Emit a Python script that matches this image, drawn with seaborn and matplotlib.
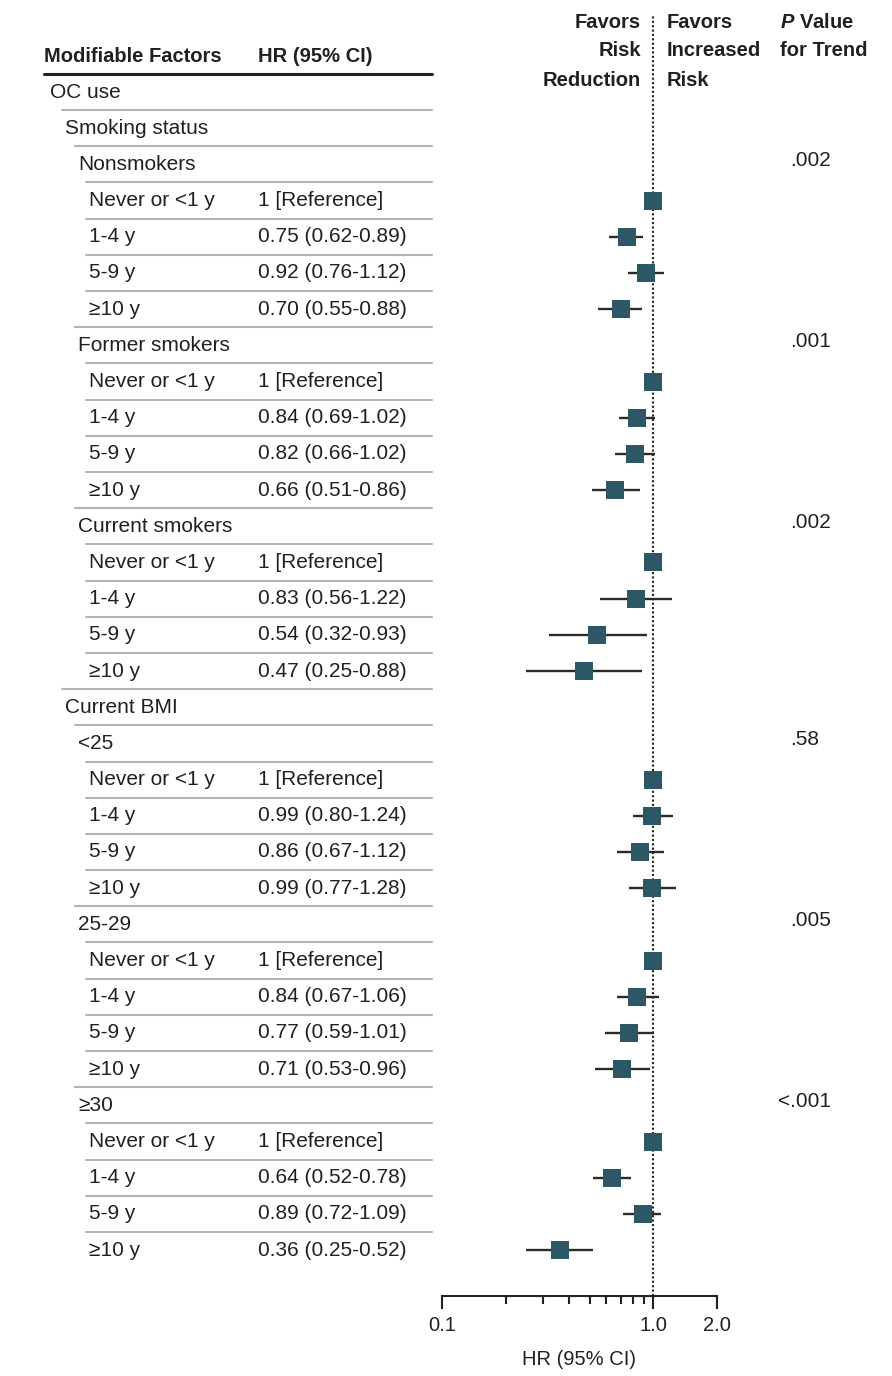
#!/usr/bin/env python3
"""Forest plot: OC use by smoking status and current BMI."""

import numpy as np
import pandas as pd
import seaborn as sns
import matplotlib.pyplot as plt
import matplotlib.transforms as mtransforms

# ---- data -----------------------------------------------------------------
row_labels = [
    "OC use", "Smoking status",
    "Nonsmokers", "Never or <1 y", "1-4 y", "5-9 y", "\u226510 y",
    "Former smokers", "Never or <1 y", "1-4 y", "5-9 y", "\u226510 y",
    "Current smokers", "Never or <1 y", "1-4 y", "5-9 y", "\u226510 y",
    "Current BMI",
    "<25", "Never or <1 y", "1-4 y", "5-9 y", "\u226510 y",
    "25-29", "Never or <1 y", "1-4 y", "5-9 y", "\u226510 y",
    "\u226530", "Never or <1 y", "1-4 y", "5-9 y", "\u226510 y",
]
row_levels = [0, 1,
              2, 3, 3, 3, 3,
              2, 3, 3, 3, 3,
              2, 3, 3, 3, 3,
              1,
              2, 3, 3, 3, 3,
              2, 3, 3, 3, 3,
              2, 3, 3, 3, 3]
nan = np.nan
hr = [nan, nan,
      nan, 1.00, 0.75, 0.92, 0.70,
      nan, 1.00, 0.84, 0.82, 0.66,
      nan, 1.00, 0.83, 0.54, 0.47,
      nan,
      nan, 1.00, 0.99, 0.86, 0.99,
      nan, 1.00, 0.84, 0.77, 0.71,
      nan, 1.00, 0.64, 0.89, 0.36]
ci_low = [nan, nan,
          nan, nan, 0.62, 0.76, 0.55,
          nan, nan, 0.69, 0.66, 0.51,
          nan, nan, 0.56, 0.32, 0.25,
          nan,
          nan, nan, 0.80, 0.67, 0.77,
          nan, nan, 0.67, 0.59, 0.53,
          nan, nan, 0.52, 0.72, 0.25]
ci_high = [nan, nan,
           nan, nan, 0.89, 1.12, 0.88,
           nan, nan, 1.02, 1.02, 0.86,
           nan, nan, 1.22, 0.93, 0.88,
           nan,
           nan, nan, 1.24, 1.12, 1.28,
           nan, nan, 1.06, 1.01, 0.96,
           nan, nan, 0.78, 1.09, 0.52]
p_trend = ["", "",
           ".002", "", "", "", "",
           ".001", "", "", "", "",
           ".002", "", "", "", "",
           "",
           ".58", "", "", "", "",
           ".005", "", "", "", "",
           "<.001", "", "", "", ""]

x_ticks = [0.1, 1.0, 2.0]
x_tick_labels = ["0.1", "1.0", "2.0"]

# ---- style ----------------------------------------------------------------
sns.set_style("white")
plt.rcParams["font.family"] = ["Liberation Sans", "DejaVu Sans"]
plt.rcParams["mathtext.fontset"] = "custom"
plt.rcParams["mathtext.it"] = "Liberation Sans:italic:bold"
plt.rcParams["mathtext.rm"] = "Liberation Sans:bold"

TXT = "#231f20"
TEAL = "#2b5864"
FS = 15
FS_HEAD = 14.5
W, H = 892, 1376
ROW0, ROWH = 92, 36.19      # pixel centre of first row and row pitch
AX_L, AX_R, AX_B = 442, 717, 1296
indent_px = [50, 65, 78, 89]
HR_X = 258
TABLE_R = 432

df = pd.DataFrame({"label": row_labels, "level": row_levels, "hr": hr,
                   "lo": ci_low, "hi": ci_high, "p": p_trend})
df["row"] = np.arange(len(df))
df["ref"] = df["hr"].notna() & df["lo"].isna()

fig = plt.figure(figsize=(W / 100, H / 100), dpi=100)
ax = fig.add_axes([AX_L / W, 1 - AX_B / H, (AX_R - AX_L) / W, AX_B / H])
ax.set_xscale("log")

# error bars then squares
ci = df.dropna(subset=["lo"])
ax.hlines(ci["row"], ci["lo"], ci["hi"], color="#2a2a2a", lw=1.7, zorder=2)
pts = df.dropna(subset=["hr"])
sns.scatterplot(data=pts, x="hr", y="row", marker="s", s=165, color=TEAL,
                linewidth=0, ax=ax, zorder=3, legend=False)

ax.axvline(1.0, ymin=0, ymax=1 - 15 / AX_B, color="#222222", ls=(0, (1, 1.1)),
           lw=1.5, zorder=1)

ax.set_xlim(0.1, 2.0)
ax.set_ylim((AX_B - ROW0) / ROWH, -ROW0 / ROWH)
ax.set_yticks([])
ax.set_ylabel("")
ax.set_xticks(x_ticks)
ax.set_xticklabels(x_tick_labels)
ax.set_xticks([0.2, 0.3, 0.4, 0.5, 0.6, 0.7, 0.8, 0.9], minor=True)
ax.xaxis.set_minor_formatter(plt.NullFormatter())
ax.tick_params(axis="x", which="major", direction="out", length=9.5,
               width=1.5, color="#222222", pad=5, labelsize=FS_HEAD,
               labelcolor=TXT, bottom=True)
ax.tick_params(axis="x", which="minor", direction="out", length=5.5,
               width=1.5, color="#222222", bottom=True)
sns.despine(ax=ax, left=True)
ax.spines["bottom"].set_linewidth(1.5)
ax.spines["bottom"].set_color("#222222")
ax.set_xlabel("HR (95% CI)", fontsize=FS_HEAD, color=TXT, labelpad=11)
ax.patch.set_alpha(0)

# ---- table text -----------------------------------------------------------
trans = mtransforms.blended_transform_factory(fig.transFigure, ax.transData)
for _, r in df.iterrows():
    x0 = indent_px[r["level"]]
    fig.text(x0 / W, r["row"], r["label"], transform=trans, fontsize=FS,
             color=TXT, va="center", ha="left")
    if r["ref"]:
        fig.text(HR_X / W, r["row"], "1 [Reference]", transform=trans,
                 fontsize=FS, color=TXT, va="center")
    elif not np.isnan(r["hr"]):
        s = f"{r['hr']:.2f} ({r['lo']:.2f}-{r['hi']:.2f})"
        fig.text(HR_X / W, r["row"], s, transform=trans, fontsize=FS,
                 color=TXT, va="center")
    if r["p"]:
        px = 790 - (12 if r["p"].startswith("<") else 0)
        fig.text(px / W, r["row"] - 0.1, r["p"], transform=trans,
                 fontsize=FS, color=TXT, va="center")
    if r["row"] > 0:
        fig.add_artist(plt.Line2D([(x0 - 3) / W, TABLE_R / W],
                                  [r["row"] - 0.5] * 2, transform=trans,
                                  color="#b4b4b4", lw=1.5))

# header rule
fig.add_artist(plt.Line2D([44 / W, TABLE_R / W], [-0.5, -0.5],
                          transform=trans, color="#222222", lw=2.2))

# column headers
def ftext(x, y, s, **kw):
    fig.text(x / W, 1 - y / H, s, fontsize=FS_HEAD, color=TXT, va="center",
             fontweight="bold", **kw)

ftext(44, 57, "Modifiable Factors")
ftext(HR_X, 57, "HR (95% CI)")
for y, a, b in zip([22, 51, 80], ["Favors", "Risk", "Reduction"],
                   ["Favors", "Increased", "Risk"]):
    ftext(641, y, a, ha="right")
    ftext(667, y, b, ha="left")
ftext(780, 22, r"$\mathit{P}$ Value")
ftext(780, 51, "for Trend")

fig.savefig("out.png", dpi=100, facecolor="white")
